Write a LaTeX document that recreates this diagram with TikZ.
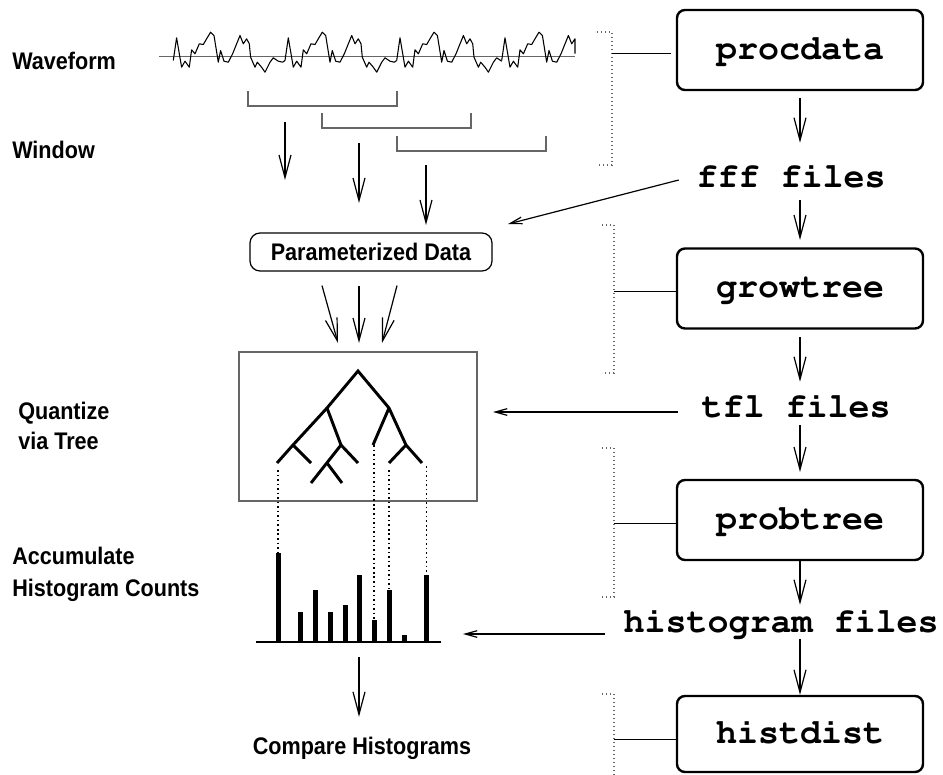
\documentclass[tikz,border=0pt]{standalone}
\usepackage[T1]{fontenc}
\usepackage{fontspec}
\usetikzlibrary{arrows.meta}
\newfontfamily\labfont[FakeStretch=0.9]{Liberation Sans}
% bold Courier (URW Nimbus Mono) for program and file names
\newcommand\codefont{\fontencoding{T1}\fontfamily{pcr}\fontseries{b}\selectfont}
\definecolor{rulegray}{gray}{0.4}

\begin{document}
\begin{tikzpicture}[
  x=0.75pt, y=-0.75pt,
  prog/.style={draw, line width=1.8pt, rounded corners=6pt,
    minimum width=184.5pt, minimum height=60pt, inner sep=0pt,
    font=\codefont\fontsize{26.25}{30}\selectfont,
    text height=18pt, text depth=4.5pt},
  files/.style={inner sep=0pt,
    font=\codefont\fontsize{26.25}{30}\selectfont,
    text height=18pt, text depth=4.5pt},
  lab/.style={inner sep=0pt, font=\labfont\bfseries\fontsize{18}{21}\selectfont},
  param/.style={draw, line width=0.9pt, rounded corners=7.5pt,
    minimum width=181.5pt, minimum height=28.5pt, inner sep=0pt,
    font=\labfont\bfseries\fontsize{18}{21}\selectfont},
  down/.style={-{Straight Barb[length=17pt,width=9pt]}, line width=0.9pt},
  side/.style={-{Straight Barb[length=9pt,width=5pt]}, line width=0.9pt},
  brk/.style={rulegray, line width=0.9pt, dash pattern=on 1pt off 2pt},
  tie/.style={line width=0.7pt},
  win/.style={rulegray, line width=0.9pt},
  wave/.style={line width=0.8pt, line join=round},
  tree/.style={line width=2.2pt},
  dots/.style={line width=0.9pt, dash pattern=on 1.2pt off 2.2pt},
  bar/.style={line width=3.75pt},
]
\useasboundingbox (0,0) rectangle (943,775);

% ---------- program pipeline (right column) ----------
\node[prog] (procdata) at (800,50) {procdata};
\node[files, anchor=base] (fff) at (791,187) {fff files};
\node[prog] (growtree) at (800,288.5) {growtree};
\node[files, anchor=base] (tfl) at (796,417) {tfl files};
\node[prog] (probtree) at (800,520) {probtree};
\node[files, anchor=base] (hfiles) at (781,632) {histogram files};
\node[prog, minimum height=57pt] (histdist) at (800,734) {histdist};

\draw[down, shorten <=5.1pt, shorten >=15pt] (procdata.south) -- (procdata.south |- fff.north);
\draw[down, shorten <=5.25pt, shorten >=5.5pt] (growtree.north |- fff.south) -- (growtree.north);
\draw[down, shorten <=5.5pt, shorten >=8.25pt] (growtree.south) -- (growtree.south |- tfl.north);
\draw[down, shorten <=1.5pt, shorten >=5.1pt] (probtree.north |- tfl.south) -- (probtree.north);
\draw[down, shorten >=2.25pt] (probtree.south) -- (probtree.south |- hfiles.north);
\draw[down, shorten <=0.75pt] (histdist.north |- hfiles.south) -- (histdist.north);

% ---------- dotted brackets grouping each program ----------
\coordinate (b1t) at (612,32);  \coordinate (b1b) at (612,165);
\coordinate (b2t) at (614,225); \coordinate (b2b) at (614,373);
\coordinate (b3t) at (614,448); \coordinate (b3b) at (614,597);
\coordinate (b4t) at (614,694); \coordinate (b4b) at (614,780);
\draw[brk] ([shift={(-15,0)}]b1t) -- (b1t) -- (b1b) -- ++(-15,0);
\draw[brk] ([shift={(-12,0)}]b2t) -- (b2t) -- (b2b) -- ++(-12,0);
\draw[brk] ([shift={(-12,0)}]b3t) -- (b3t) -- (b3b) -- ++(-12,0);
\draw[brk] ([shift={(-12,0)}]b4t) -- (b4t) -- (b4b);
\draw[tie] ([shift={(-5,3)}]procdata.west) -- ([shift={(0,3)}]procdata.west -| b1t);
\draw[tie] ([shift={(0,3)}]growtree.west) -- ([shift={(0,3)}]growtree.west -| b2t);
\draw[tie] ([shift={(0,3)}]probtree.west) -- ([shift={(0,3)}]probtree.west -| b3t);
\draw[tie] ([shift={(0,5)}]histdist.west) -- ([shift={(0,5)}]histdist.west -| b4t);

% ---------- left column labels ----------
\node[lab, anchor=base west] (lwave) at (12,69) {Waveform};
\node[lab, anchor=base west] (lwin) at (12,158) {Window};
\node[lab, anchor=base west] (lquant) at (18,419) {Quantize};
\node[lab, anchor=base west] (lvia) at (18,449) {via Tree};
\node[lab, anchor=base west] (lacc) at (12,564) {Accumulate};
\node[lab, anchor=base west] (lhc) at (12,596) {Histogram Counts};

% ---------- waveform ----------
\draw[rulegray, line width=0.9pt] (159,56.5) -- (575,56.5);
\def\wavepts{(3.3,-18.7),(8.3,10.7),(11.7,4.7),(16,10.7),(18.3,-6.7),(21.7,-2.7),
  (26,-12.7),(30,-12),(33.3,-17.7),(37.3,-24.3),(40.7,-21),(45,5.7),(47.3,-6),
  (50.7,4.7),(55,5.7),(59.3,-2.7),(66.7,-21),(70,-12.7),(73.3,-17.7),(76,-12.7),
  (77.3,0.7),(81.7,10.7),(84,5.7),(88.3,10.7),(91.7,15.7),(96.7,5.7),(100,1.3),(105,4.7)}
\draw[wave, shift={(173.3,56.5)}] (0,4) foreach \p in \wavepts {-- \p} -- (109.3,5.7) -- (111.7,4);
\draw[wave, shift={(285,56.5)}] (0,4) foreach \p in \wavepts {-- \p} -- (109.3,5.7) -- (111.7,4);
\draw[wave, shift={(396.7,56.5)}] (0,4) foreach \p in \wavepts {-- \p};
\draw[wave, shift={(501.7,56.5)}] (0,4) -- (3.3,-18.7) -- (8.3,10.7) -- (11.7,4.7) -- (16,10.7)
  -- (18.3,-6.7) -- (21.7,-2.7) -- (26,-12.7) -- (30,-12) -- (33.3,-17.7) -- (37.3,-24.3)
  -- (40.7,-21) -- (45,5.7) -- (47.3,-6) -- (50.7,4.7) -- (55,5.7) -- (59.3,-2.7)
  -- (66.7,-21) -- (70,-12.7) -- (73.3,-17.7) -- (73.3,-3);

% ---------- overlapping windows ----------
\draw[win] (248,91) |- (397,106) -- (397,91);
\draw[win] (322,113) |- (471,128) -- (471,113);
\draw[win] (397,136) |- (546,151) -- (546,136);
\coordinate (w1) at (285,122); \coordinate (w2) at (359,143); \coordinate (w3) at (426,165);

% ---------- parameterized data ----------
\node[param] (param) at (371,252) {Parameterized Data};
\draw[down] (w1) -- ++(0,58);
\draw[down] (w2) -- ++(0,60);
\draw[down] (w3) -- ++(0,60);
\draw[side] ([shift={(-17.5,2)}]fff.west) -- ([shift={(15.5,-28)}]param.east);

% ---------- tree quantizer ----------
\node[draw=rulegray, line width=0.8pt, inner sep=0pt, outer sep=0pt,
  minimum width=178.5pt, minimum height=111.75pt] (treebox) at (358,426.5) {};
\draw[down] ([shift={(-49,14)}]param.south) -- ([shift={(-20,-9)}]treebox.north);
\draw[down] ([shift={(-12,14)}]param.south) -- ([shift={(1,-9)}]treebox.north);
\draw[down] ([shift={(26,14)}]param.south) -- ([shift={(24,-9)}]treebox.north);
\draw[side] ([shift={(-23.5,4)}]tfl.west) -- ([shift={(16,-14.5)}]treebox.east);

\draw[tree] (277,463) -- (293,445) -- (327,408) -- (358,371) -- (389,408) -- (406,445) -- (422,463);
\draw[tree] (293,445) -- (311,463);
\draw[tree] (327,408) -- (341,445) -- (358,463);
\draw[tree] (341,445) -- (311,483);
\draw[tree] (327,463) -- (342,483);
\draw[tree] (389,408) -- (373,445);
\draw[tree] (406,445) -- (389,463);

% ---------- histogram ----------
\node[inner sep=0pt, outer sep=0pt, minimum width=138.75pt, minimum height=67.5pt] (hist) at (348.5,597) {};
\draw[line width=1pt] (hist.south west) -- (hist.south east);
\foreach \x/\t in {278/553, 300/612, 315/590, 330/612, 345/605, 359/575, 374/620, 389/590, 404/635, 426.5/575}
  \draw[bar] (\x,642) -- (\x,\t);
\draw[dots] (278,470) -- (278,553);
\draw[dots] (374,445) -- (374,620);
\draw[dots] (389,470) -- (389,590);
\draw[dots] (426.5,466) -- (426.5,575);
\draw[side] ([shift={(-18.5,11)}]hfiles.west) -- ([shift={(22,37)}]hist.east);

\node[lab, anchor=base] (compare) at (362,754) {Compare Histograms};
\draw[down] ([shift={(10.5,15)}]hist.south) -- ([shift={(-3,-19.5)}]compare.north);
\end{tikzpicture}
\end{document}
